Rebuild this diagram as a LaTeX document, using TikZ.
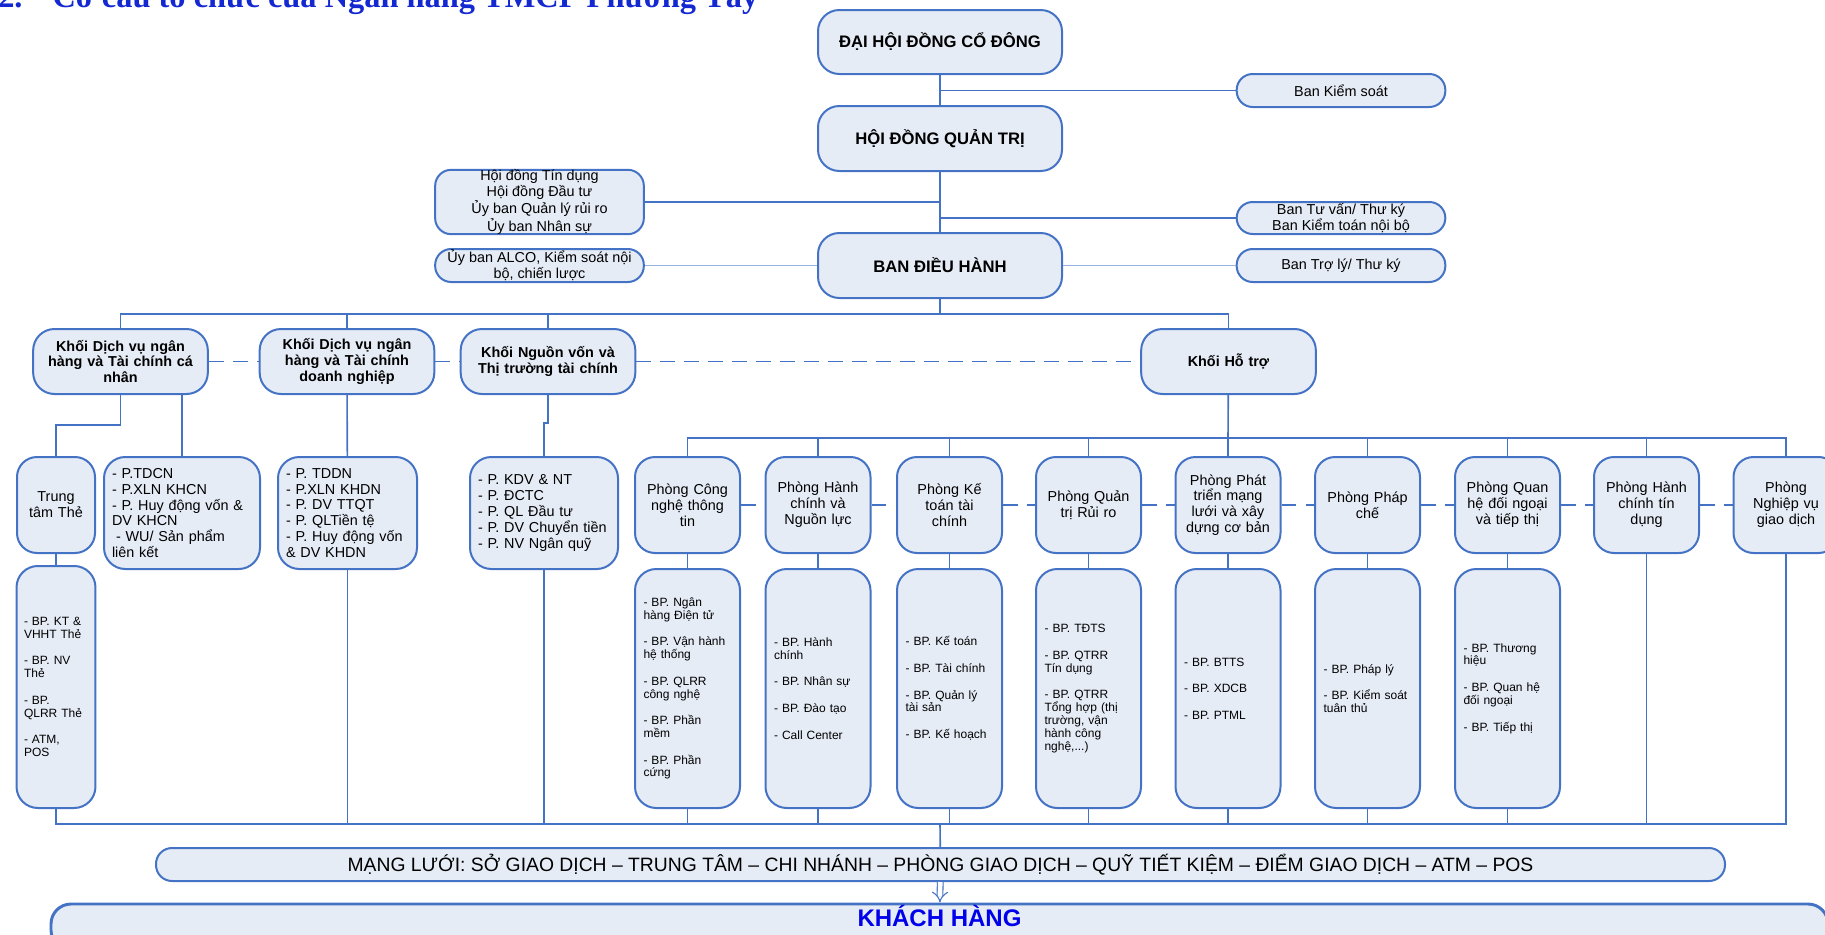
\documentclass[tikz,border=0pt]{standalone}
\usepackage{fontspec}
\setmainfont{Liberation Sans}
\newfontfamily\titlefont{Liberation Serif}
\usetikzlibrary{arrows.meta}

\definecolor{bordblue}{RGB}{68,114,196}
\definecolor{boxfill}{RGB}{230,236,246}
\definecolor{paleline}{RGB}{150,180,225}
\definecolor{titleblue}{RGB}{20,40,210}
\definecolor{khblue}{RGB}{0,0,235}

\newcommand{\gap}{\\[10.4pt]}

\tikzset{
  bx/.style={draw=bordblue, fill=boxfill, line width=1.5pt},
  topbox/.style={bx, rounded corners=16pt, minimum width=183pt, minimum height=48.75pt,
    font=\bfseries\fontsize{12.5}{15}\selectfont},
  sidebox/.style={bx, rounded corners=12pt, minimum width=156.5pt, align=center, inner ysep=0pt,
    font=\fontsize{10.8}{11.9}\selectfont},
  khoi/.style={bx, rounded corners=16pt, minimum width=131pt, minimum height=48.75pt,
    text width=122pt, align=center, font=\bfseries\fontsize{10.8}{11.9}\selectfont},
  phong/.style={bx, rounded corners=15pt, minimum width=78.75pt, minimum height=72pt,
    text width=72pt, inner xsep=2pt, align=center, font=\fontsize{10.8}{11.9}\selectfont},
  listbox/.style={bx, rounded corners=16pt, minimum height=84pt, inner xsep=6pt, align=left,
    font=\fontsize{10.8}{11.9}\selectfont},
  bpbox/.style={bx, rounded corners=16pt, minimum height=179.25pt, text width=66pt,
    inner xsep=6.375pt, align=left, font=\fontsize{9}{9.6}\selectfont},
  dashline/.style={dash pattern=on 11pt off 7pt},
}

\begin{document}
\begin{tikzpicture}[x=0.75pt,y=-0.75pt]
  \useasboundingbox (0,0) rectangle (1825,935);

  \node[anchor=base west, inner sep=0pt, text=titleblue,
    font=\titlefont\bfseries\fontsize{24.3}{28}\selectfont] (title) at (-2,7.5)
    {2.\hspace{22.5pt}Cơ cấu tổ chức của Ngân hàng TMCP Phương Tây};

  \begin{scope}[every node/.style={topbox}]
    \node[minimum height=48pt] (dhcd) at (940,42) {ĐẠI HỘI ĐỒNG CỔ ĐÔNG};
    \node (hdqt) at (940,138.5) {HỘI ĐỒNG QUẢN TRỊ};
    \node (bdh)  at (940,265.5) {BAN ĐIỀU HÀNH};
  \end{scope}

  \begin{scope}[every node/.style={sidebox}]
    \node[minimum height=24.75pt] (bks)  at (1341,90.5)  {Ban Kiểm soát};
    \node[minimum height=48pt]    (hdtd) at (539.5,202)  {Hội đồng Tín dụng\\Hội đồng Đầu tư\\Ủy ban Quản lý rủi ro\\Ủy ban Nhân sự};
    \node[minimum height=24pt]    (btv)  at (1341,218)   {Ban Tư vấn/ Thư ký\\Ban Kiểm toán nội bộ};
    \node[minimum height=24.75pt] (alco) at (539.5,265.5) {Ủy ban ALCO, Kiểm soát nội\\bộ, chiến lược};
    \node[minimum height=24.75pt] (btl)  at (1341,265.5) {Ban Trợ lý/ Thư ký};
  \end{scope}

  \begin{scope}[every node/.style={khoi}]
    \node (kcn) at (120.5,361.5) {Khối Dịch vụ ngân\\hàng và Tài chính cá\\nhân};
    \node (kdn) at (347,361.5)   {Khối Dịch vụ ngân\\hàng và Tài chính\\doanh nghiệp};
    \node (knv) at (548,361.5)   {Khối Nguồn vốn và\\Thị trường tài chính};
    \node (kht) at (1228.5,361.5) {Khối Hỗ trợ};
  \end{scope}

  \begin{scope}[every node/.style={listbox}]
    \node[text width=105pt]   (ptdcn) at (182,513)   {- P.TDCN\\- P.XLN KHCN\\- P. Huy động vốn \&\\DV KHCN\\\hspace{3pt}- WU/ Sản phẩm\\liên kết};
    \node[text width=92.25pt] (ptddn) at (347.5,513) {- P. TDDN\\- P.XLN KHDN\\- P. DV TTQT\\- P. QLTiền tệ\\- P. Huy động vốn\\\& DV KHDN};
    \node[text width=99pt]    (pkdv)  at (544,513)   {- P. KDV \& NT\\- P. ĐCTC\\- P. QL Đầu tư\\- P. DV Chuyển tiền\\- P. NV Ngân quỹ};
  \end{scope}

  \begin{scope}[every node/.style={phong}]
    \node[text width=52pt, minimum width=58.5pt] (ttthe) at (56,505) {Trung\\tâm Thẻ};
    \node (pcntt) at (687.5,505)  {Phòng Công\\nghệ thông\\tin};
    \node (phcnl) at (818,505)    {Phòng Hành\\chính và\\Nguồn lực};
    \node (pktc)  at (949.5,505)  {Phòng Kế\\toán tài\\chính};
    \node (pqtrr) at (1088.5,505) {Phòng Quản\\trị Rủi ro};
    \node (pptml) at (1228,505)   {Phòng Phát\\triển mạng\\lưới và xây\\dựng cơ bản};
    \node (ppc)   at (1367.5,505) {Phòng Pháp\\chế};
    \node (pqhdn) at (1507.5,505) {Phòng Quan\\hệ đối ngoại\\và tiếp thị};
    \node (phctd) at (1646.5,505) {Phòng Hành\\chính tín\\dụng};
    \node (pnvgd) at (1786,505)   {Phòng\\Nghiệp vụ\\giao dịch};
  \end{scope}

  \begin{scope}[every node/.style={bpbox}]
    \node[minimum height=181.5pt, text width=48pt, inner xsep=5.6pt] (ttbp) at (56,687)
      {- BP. KT \&\\VHHT Thẻ\gap - BP. NV\\Thẻ\gap - BP.\\QLRR Thẻ\gap - ATM,\\POS};
    \node (bcntt) at (687.5,688.5)  {- BP. Ngân\\hàng Điện tử\gap - BP. Vận hành\\hệ thống\gap - BP. QLRR\\công nghệ\gap - BP. Phần\\mềm\gap - BP. Phần\\cứng};
    \node (bhcnl) at (818,688.5)    {- BP. Hành\\chính\gap - BP. Nhân sự\gap - BP. Đào tạo\gap - Call Center};
    \node (bktc)  at (949.5,688.5)  {- BP. Kế toán\gap - BP. Tài chính\gap - BP. Quản lý\\tài sản\gap - BP. Kế hoạch};
    \node (bqtrr) at (1088.5,688.5) {- BP. TĐTS\gap - BP. QTRR\\Tín dụng\gap - BP. QTRR\\Tổng hợp (thị\\trường, vận\\hành công\\nghệ,...)};
    \node (bptml) at (1228,688.5)   {- BP. BTTS\gap - BP. XDCB\gap - BP. PTML};
    \node (bpc)   at (1367.5,688.5) {- BP. Pháp lý\gap - BP. Kiểm soát\\tuân thủ};
    \node (bqhdn) at (1507.5,688.5) {- BP. Thương\\hiệu\gap - BP. Quan hệ\\đối ngoại\gap - BP. Tiếp thị};
  \end{scope}

  \node[bx, rounded corners=12pt, minimum width=1176.75pt, minimum height=24.75pt,
    font=\fontsize{14.5}{16}\selectfont] (mang) at (940.5,864.5)
    {MẠNG LƯỚI: SỞ GIAO DỊCH – TRUNG TÂM – CHI NHÁNH – PHÒNG GIAO DỊCH – QUỸ TIẾT KIỆM – ĐIỂM GIAO DỊCH – ATM – POS};
  \node[bx, line width=2.2pt, rounded corners=15pt, minimum width=1332.75pt, minimum height=34.5pt,
    inner ysep=2pt, text height=13pt, text depth=13.6pt, text=khblue,
    font=\bfseries\fontsize{18}{21}\selectfont] (khach) at (939.5,927) {KHÁCH HÀNG};

  \coordinate (busk) at (940,314);
  \coordinate (busp) at (1228,438);
  \coordinate (busm) at (940,824);
  \coordinate (jcn)  at (56,425);
  \coordinate (jnv)  at (544,423);

  \begin{scope}[every edge/.style={draw, bordblue, line width=1.2pt}]
    \path (dhcd) edge (hdqt);
    \path (hdqt) edge (bdh);
    \path (bks)  edge (bks -| dhcd);
    \path (hdtd) edge (hdtd -| hdqt);
    \path (btv)  edge (btv -| hdqt);
    \path (bdh)  edge (busk);
    \path (kdn)  edge (kdn |- busk);
    \path (knv)  edge (knv |- busk);
    \path (ptdcn) edge (ptdcn |- kcn.south);
    \path (kdn)  edge (ptddn);
    \path (ttthe) edge (ttbp);
    \path (kht)  edge (busp);
    \path (phcnl) edge (phcnl |- busp);
    \path (pktc)  edge (pktc |- busp);
    \path (pqtrr) edge (pqtrr |- busp);
    \path (pptml) edge (pptml |- busp);
    \path (ppc)   edge (ppc |- busp);
    \path (pqhdn) edge (pqhdn |- busp);
    \path (phctd) edge (phctd |- busp);
    \path (pcntt) edge (bcntt);
    \path (phcnl) edge (bhcnl);
    \path (pktc)  edge (bktc);
    \path (pqtrr) edge (bqtrr);
    \path (pptml) edge (bptml);
    \path (ppc)   edge (bpc);
    \path (pqhdn) edge (bqhdn);
    \path (ptddn) edge (ptddn |- busm);
    \path (pkdv)  edge (pkdv |- busm);
    \path (bcntt) edge (bcntt |- busm);
    \path (bhcnl) edge (bhcnl |- busm);
    \path (bktc)  edge (bktc |- busm);
    \path (bqtrr) edge (bqtrr |- busm);
    \path (bptml) edge (bptml |- busm);
    \path (bpc)   edge (bpc |- busm);
    \path (bqhdn) edge (bqhdn |- busm);
    \path (phctd) edge (phctd |- busm);
    \path (busm)  edge (mang);

    \path (kcn) edge[dashline] (kdn);
    \path (kdn) edge[dashline] (knv);
    \path (knv) edge[dashline] (kht);
    \path (pcntt) edge[dashline] (phcnl);
    \path (phcnl) edge[dashline] (pktc);
    \path (pktc)  edge[dashline] (pqtrr);
    \path (pqtrr) edge[dashline] (pptml);
    \path (pptml) edge[dashline] (ppc);
    \path (ppc)   edge[dashline] (pqhdn);
    \path (pqhdn) edge[dashline] (phctd);
    \path (phctd) edge[dashline] (pnvgd);

    \path (alco) edge[paleline] (bdh);
    \path (bdh)  edge[paleline] (btl);
  \end{scope}

  \begin{scope}[bordblue, line width=1.2pt]
    \draw (kcn) -- (kcn |- busk) -- (kht |- busk) -- (kht);
    \draw (kcn) |- (jcn) -- (ttthe);
    \draw (knv) |- (jnv) -- (pkdv);
    \draw (pcntt) -- (pcntt |- busp) -- (pnvgd |- busp) -- (pnvgd);
    \draw (ttbp) -- (ttbp |- busm) -- (pnvgd |- busm) -- (pnvgd);
  \end{scope}

  \draw[bordblue, line width=0.8pt, double=white, double distance=3.5pt, -{Implies}] (mang) -- (khach);

\end{tikzpicture}
\end{document}
